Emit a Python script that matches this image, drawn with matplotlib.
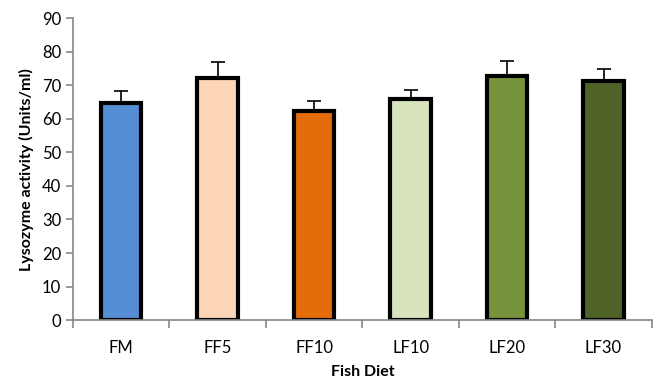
import numpy as np
import matplotlib.pyplot as plt

diets = ['FM', 'FF5', 'FF10', 'LF10', 'LF20', 'LF30']
lysozyme = [64.7, 72.3, 62.2, 65.8, 72.8, 71.2]
sd = [3.7, 4.5, 3.1, 2.8, 4.5, 3.7]
colors = ['#558ED5', '#FBD5B5', '#E46C0A', '#D7E4BD', '#77933C', '#4F6228']

plt.rcParams['font.family'] = ['Lato', 'DejaVu Sans']

fig = plt.figure(figsize=(6.57, 3.78), dpi=100)
ax = fig.add_axes([0.111, 0.153, 0.881, 0.799])

x = np.arange(len(diets))
ax.bar(x, lysozyme, width=0.42, color=colors, edgecolor='black', linewidth=3, zorder=2)
ax.errorbar(x, lysozyme, yerr=[np.zeros(len(sd)), sd], fmt='none',
            ecolor='black', elinewidth=1.2, capsize=5, capthick=1.2, zorder=1)

ax.set_xlim(-0.5, len(diets) - 0.5)
ax.set_ylim(0, 90)
ax.set_yticks(range(0, 91, 10))
ax.tick_params(axis='y', labelsize=12, length=5, color='#868686', width=1.2)
ax.set_xticks(x)
ax.set_xticklabels(diets, fontsize=12)
ax.tick_params(axis='x', length=0, pad=14)
ax.set_xticks(np.arange(-0.5, len(diets)), minor=True)
ax.tick_params(axis='x', which='minor', length=6, color='#868686', width=1.2)

for s in ['top', 'right']:
    ax.spines[s].set_visible(False)
for s in ['left', 'bottom']:
    ax.spines[s].set_color('#868686')
    ax.spines[s].set_linewidth(1.2)

ax.set_ylabel('Lysozyme activity (Units/ml)', fontsize=11.5, fontweight='bold', labelpad=6)
ax.set_xlabel('Fish Diet', fontsize=11.5, fontweight='bold', labelpad=7)

plt.savefig('out.png', dpi=100)
